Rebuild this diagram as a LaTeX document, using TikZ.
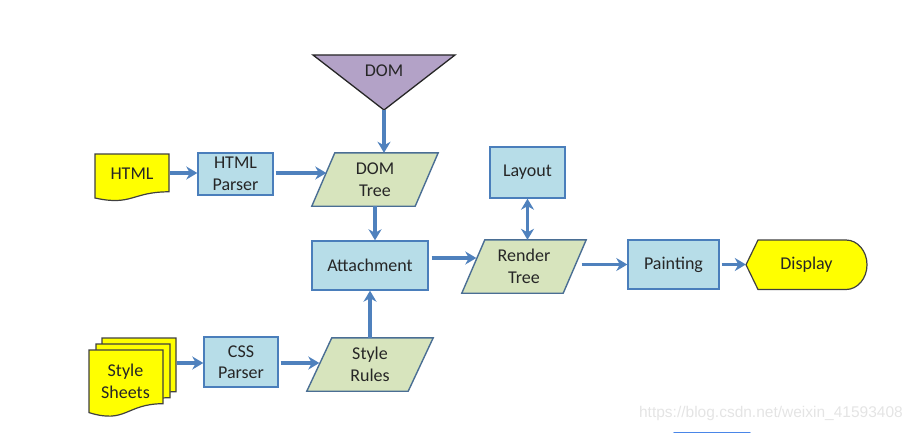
\documentclass[tikz,border=0pt]{standalone}
\usepackage{fontspec}
\setmainfont{Carlito}
\usetikzlibrary{arrows.meta,calc}
\definecolor{arrowblue}{HTML}{4F81BD}
\definecolor{boxfill}{HTML}{B7DDE8}
\definecolor{boxline}{HTML}{4A7EBB}
\definecolor{greenfill}{HTML}{D7E4BD}
\definecolor{greenline}{HTML}{4A6E94}
\definecolor{purplefill}{HTML}{B3A2C7}
\definecolor{docyellow}{HTML}{FFFF00}
\definecolor{docline}{HTML}{404040}
\definecolor{txt}{HTML}{262626}
\definecolor{wmark}{HTML}{E4E4E4}
\definecolor{uiblue}{HTML}{4A86E8}
\tikzset{
  lbl/.style={text=txt, align=center, font=\fontsize{18}{21.5}\selectfont, inner sep=0pt},
  bluebox/.style={lbl, draw=boxline, fill=boxfill, line width=1.4pt},
  ghost/.style={lbl, draw=none, fill=none},
  greenshape/.style={draw=greenline, fill=greenfill, line width=1.4pt},
  yellowshape/.style={draw=docline, fill=docyellow, line width=1.2pt},
  tipshape/.style={},
  flow/.style={draw=arrowblue, line width=3.2pt, -{Stealth[length=11pt,width=13pt,inset=3.5pt]}},
  flowboth/.style={draw=arrowblue, line width=3.2pt, {Stealth[length=11pt,width=13pt,inset=3.5pt]}-{Stealth[length=11pt,width=13pt,inset=3.5pt]}}
}
\begin{document}
\begin{tikzpicture}[x=1pt,y=-1pt]
\useasboundingbox (0,0) rectangle (912,433);

% DOM triangle
\draw[draw=black!85, fill=purplefill, line width=1.3pt] (313,55) -- (455,55) -- (384,110) -- cycle;
\node[ghost] (dom) at (384,71) {DOM};
\coordinate (domapex) at (384,110);

% HTML document
\draw[yellowshape] (95,154) -- (169,154) -- (169,191.8) .. controls (132,191.8) and (132,206.2) .. (95,198) -- cycle;
\node[ghost, minimum width=74pt, minimum height=44pt] (html) at (132,174) {HTML};

% HTML Parser
\node[bluebox, minimum width=75pt, minimum height=42pt] (parser) at (235.5,174) {HTML\\Parser};

% DOM Tree parallelogram
\node[ghost, minimum width=103pt, minimum height=53pt] (domtree) at (375,179.5) {};
\draw[greenshape] ([xshift=-11.5pt]domtree.south west) -- ([xshift=-11.5pt]domtree.south east)
  -- ([xshift=11.5pt]domtree.north east) -- ([xshift=11.5pt]domtree.north west) -- cycle;
\node[ghost] at (domtree) {DOM\\Tree};

% Attachment
\node[bluebox, minimum width=116pt, minimum height=49pt] (attach) at (370,265.5) {Attachment};

% Layout
\node[bluebox, minimum width=75pt, minimum height=51pt] (layout) at (527.5,172.5) {Layout};

% Render Tree parallelogram
\node[ghost, minimum width=101pt, minimum height=53pt] (render) at (524,266.5) {};
\draw[greenshape] ([xshift=-11.5pt]render.south west) -- ([xshift=-11.5pt]render.south east)
  -- ([xshift=11.5pt]render.north east) -- ([xshift=11.5pt]render.north west) -- cycle;
\node[ghost] at (render) {Render\\Tree};

% Painting
\node[bluebox, minimum width=91pt, minimum height=49pt] (painting) at (673.5,264.5) {Painting};

% Display
\draw[yellowshape] (746,264.75) -- (758,240) -- (846,240)
  .. controls (857.6,240) and (867,251.1) .. (867,264.75)
  .. controls (867,278.4) and (857.6,289.5) .. (846,289.5) -- (758,289.5) -- cycle;
\node[ghost, minimum width=121pt, minimum height=49.5pt] (display) at (806.5,264.75) {Display};

% Style Sheets (multi-document)
\draw[yellowshape] (102,338) -- (176,338) -- (176,391.7) .. controls (139,391.7) and (139,412.2) .. (102,400.6) -- cycle;
\draw[yellowshape] (96,344) -- (170,344) -- (170,397.7) .. controls (133,397.7) and (133,418.2) .. (96,406.6) -- cycle;
\draw[yellowshape] (89,350) -- (163,350) -- (163,403.7) .. controls (126,403.7) and (126,424.2) .. (89,412.6) -- cycle;
\node[ghost] (sheets) at (125.5,381.5) {Style\\Sheets};
\coordinate (sheetsout) at (177,363);

% CSS Parser
\node[bluebox, minimum width=74pt, minimum height=50pt] (css) at (241,362) {CSS\\Parser};

% Style Rules parallelogram
\node[ghost, minimum width=101pt, minimum height=53pt] (rules) at (370,364.5) {};
\draw[greenshape] ([xshift=-12.5pt]rules.south west) -- ([xshift=-12.5pt]rules.south east)
  -- ([xshift=12.5pt]rules.north east) -- ([xshift=12.5pt]rules.north west) -- cycle;
\node[ghost] at (rules) {Style\\Rules};

% Connectors
\draw[flow] (domapex) -- (domapex |- domtree.north);
\draw[flow] ([xshift=1pt]html.east |- 0,173) -- (parser.west |- 0,173);
\draw[flow] ([xshift=2pt]parser.east |- 0,173) -- ([xshift=3pt]domtree.west |- 0,173);
\draw[flow] (domtree.south) -- (domtree.south |- attach.north);
\draw[flow] (rules.north) -- (rules.north |- attach.south);
\draw[flow] ([xshift=3pt,yshift=7.5pt]attach.east) -- ([xshift=3pt,yshift=7.5pt]render.west |- attach.east);
\draw[flowboth] (layout.south) -- (layout.south |- render.north);
\draw[flow] ([xshift=7pt]render.east |- painting.west) -- (painting.west);
\draw[flow] ([xshift=2pt]painting.east) -- (display.west |- painting.east);
\draw[flow] (sheetsout) -- (css.west |- sheetsout);
\draw[flow] ([xshift=2pt]css.east |- 0,363) -- (rules.west |- 0,363);

% Watermark and UI fragment
\node[text=wmark, font=\fontspec{Liberation Sans}\fontsize{15.5}{18}\selectfont, anchor=east, inner sep=0pt] (wm) at (903,413) {https://blog.csdn.net/weixin\_41593408};
\draw[uiblue, line width=1.2pt, line cap=round] (674,432.4) -- (750,432.4);
\end{tikzpicture}
\end{document}
